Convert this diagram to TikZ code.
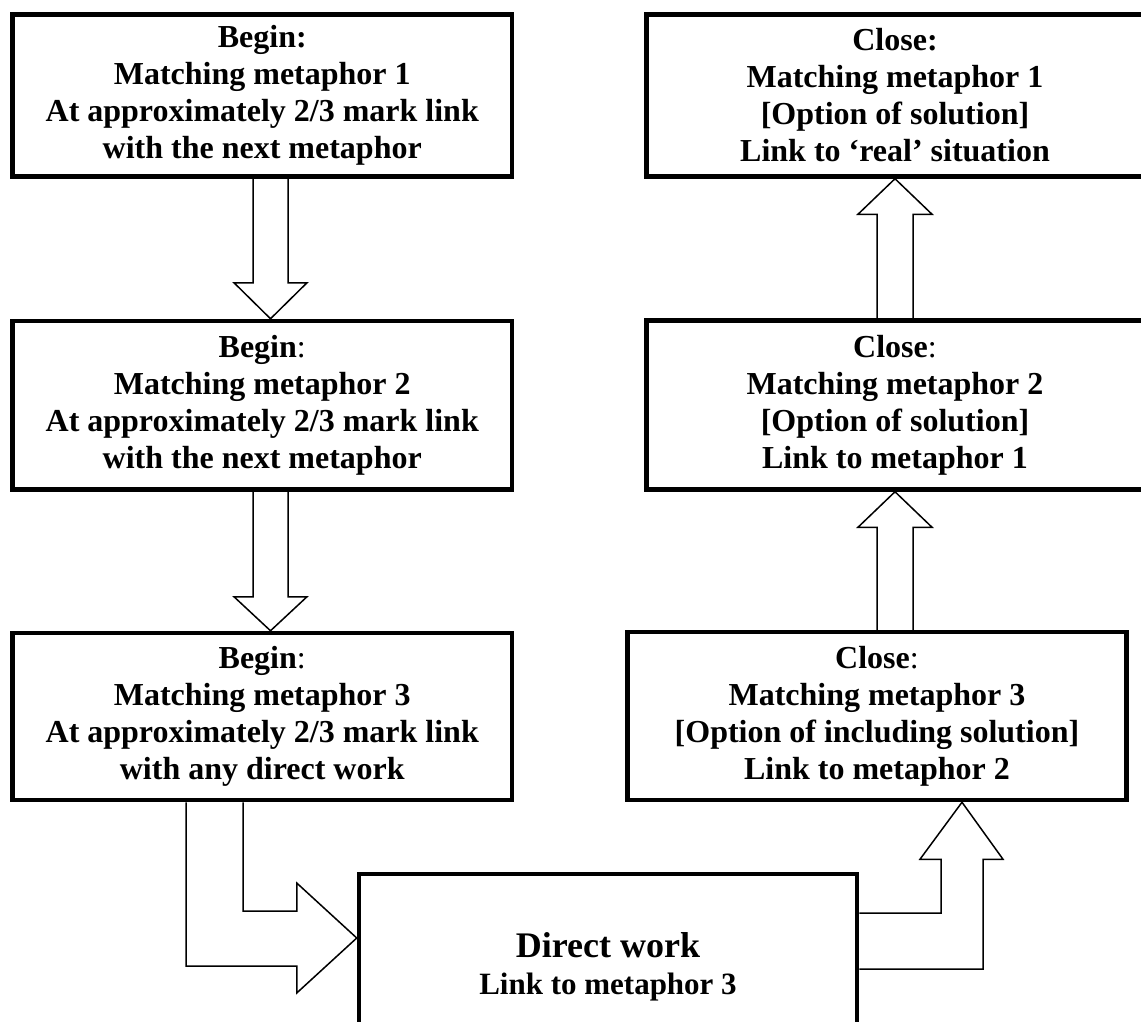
\documentclass[tikz,border=0pt]{standalone}
\usepackage{fontspec}
\setmainfont{Liberation Serif}
\usetikzlibrary{calc}
\begin{document}
\begin{tikzpicture}[x=1pt,y=-1pt,
  box/.style={draw, line width=4.5pt, fill=white, inner sep=0pt, align=center,
    font=\fontsize{32}{37}\selectfont\bfseries},
  blk/.style={draw, line width=1.5pt, fill=white, line join=miter}]
\useasboundingbox (0,0) rectangle (1141,1022);
\clip (0,0) rectangle (1141,1022);
% node placement (boxes) -- placed first to get anchors
\path
 (262.25,95.5) node[box, draw=none, fill=none, minimum width=499.5pt, minimum height=162pt] (b1) {}
 (262.25,405.25) node[box, draw=none, fill=none, minimum width=499.5pt, minimum height=168.5pt] (b2) {}
 (262.25,716.5) node[box, draw=none, fill=none, minimum width=499.5pt, minimum height=167pt] (b3) {}
 (895,95.5) node[box, draw=none, fill=none, minimum width=497pt, minimum height=162pt] (c1) {}
 (895,405) node[box, draw=none, fill=none, minimum width=497pt, minimum height=169pt] (c2) {}
 (877,716) node[box, draw=none, fill=none, minimum width=499pt, minimum height=168pt] (c3) {}
 (608,967) node[box, draw=none, fill=none, minimum width=498pt, minimum height=186pt] (d) {};
% block arrows
\draw[blk] ($(b1.south)+(-9.25,0)$) -- ($(b2.north)+(-9.25,-36)$) -- ($(b2.north)+(-28.25,-36)$)
  -- ($(b2.north)+(8.25,0)$) -- ($(b2.north)+(44.75,-36)$) -- ($(b2.north)+(25.75,-36)$) -- ($(b1.south)+(25.75,0)$);
\draw[blk] ($(b2.south)+(-9.25,0)$) -- ($(b3.north)+(-9.25,-34)$) -- ($(b3.north)+(-28.25,-34)$)
  -- ($(b3.north)+(8.25,0)$) -- ($(b3.north)+(44.75,-34)$) -- ($(b3.north)+(25.75,-34)$) -- ($(b2.south)+(25.75,0)$);
\draw[blk] ($(c2.south |- c3.north)+(-18,0)$) -- ($(c2.south)+(-18,35.5)$) -- ($(c2.south)+(-37,35.5)$)
  -- (c2.south) -- ($(c2.south)+(37,35.5)$) -- ($(c2.south)+(18,35.5)$) -- ($(c2.south |- c3.north)+(18,0)$);
\draw[blk] ($(c1.south |- c2.north)+(-18,0)$) -- ($(c1.south)+(-18,35.5)$) -- ($(c1.south)+(-37,35.5)$)
  -- (c1.south) -- ($(c1.south)+(37,35.5)$) -- ($(c1.south)+(18,35.5)$) -- ($(c1.south |- c2.north)+(18,0)$);
\draw[blk] ($(b3.south)+(-76.25,0)$) -- ($(b3.south |- d.west)+(-76.25,-1)$) -- ($(d.west)+(-60,-1)$)
  -- ($(d.west)+(-60,26)$) -- ($(d.west)+(0,-29)$) -- ($(d.west)+(-60,-84)$) -- ($(d.west)+(-60,-56)$)
  -- ($(b3.south |- d.west)+(-19.25,-56)$) -- ($(b3.south)+(-19.25,0)$);
\draw[blk] ($(d.east)+(0,-54)$) -- ($(c3.south |- d.east)+(64,-54)$) -- ($(c3.south)+(64,57)$)
  -- ($(c3.south)+(43,57)$) -- ($(c3.south)+(85,0)$) -- ($(c3.south)+(126,57)$) -- ($(c3.south)+(106,57)$)
  -- ($(c3.south |- d.east)+(106,2)$) -- ($(d.east)+(0,2)$);
% boxes with text
\node[box, minimum width=499.5pt, minimum height=162pt] at (b1) {Begin:\\Matching metaphor 1\\At approximately 2/3 mark link\\with the next metaphor};
\node[box, minimum width=499.5pt, minimum height=168.5pt] at (b2) {Begin\mdseries:\\Matching metaphor 2\\At approximately 2/3 mark link\\with the next metaphor};
\node[box, minimum width=499.5pt, minimum height=167pt] at (b3) {Begin\mdseries:\\Matching metaphor 3\\At approximately 2/3 mark link\\with any direct work};
\node[box, minimum width=497pt, minimum height=162pt] at (c1) {Close:\\Matching metaphor 1\\{[}Option of solution{]}\\Link to `real' situation};
\node[box, minimum width=497pt, minimum height=169pt] at (c2) {Close\mdseries:\\Matching metaphor 2\\{[}Option of solution{]}\\Link to metaphor 1};
\node[box, minimum width=499pt, minimum height=168pt] at (c3) {Close\mdseries:\\Matching metaphor 3\\{[}Option of including solution{]}\\Link to metaphor 2};
\node[box, minimum width=498pt, minimum height=186pt] at (d) {{\fontsize{36}{40}\selectfont Direct work}\\{\fontsize{31}{36}\selectfont Link to metaphor 3}};
\end{tikzpicture}
\end{document}
